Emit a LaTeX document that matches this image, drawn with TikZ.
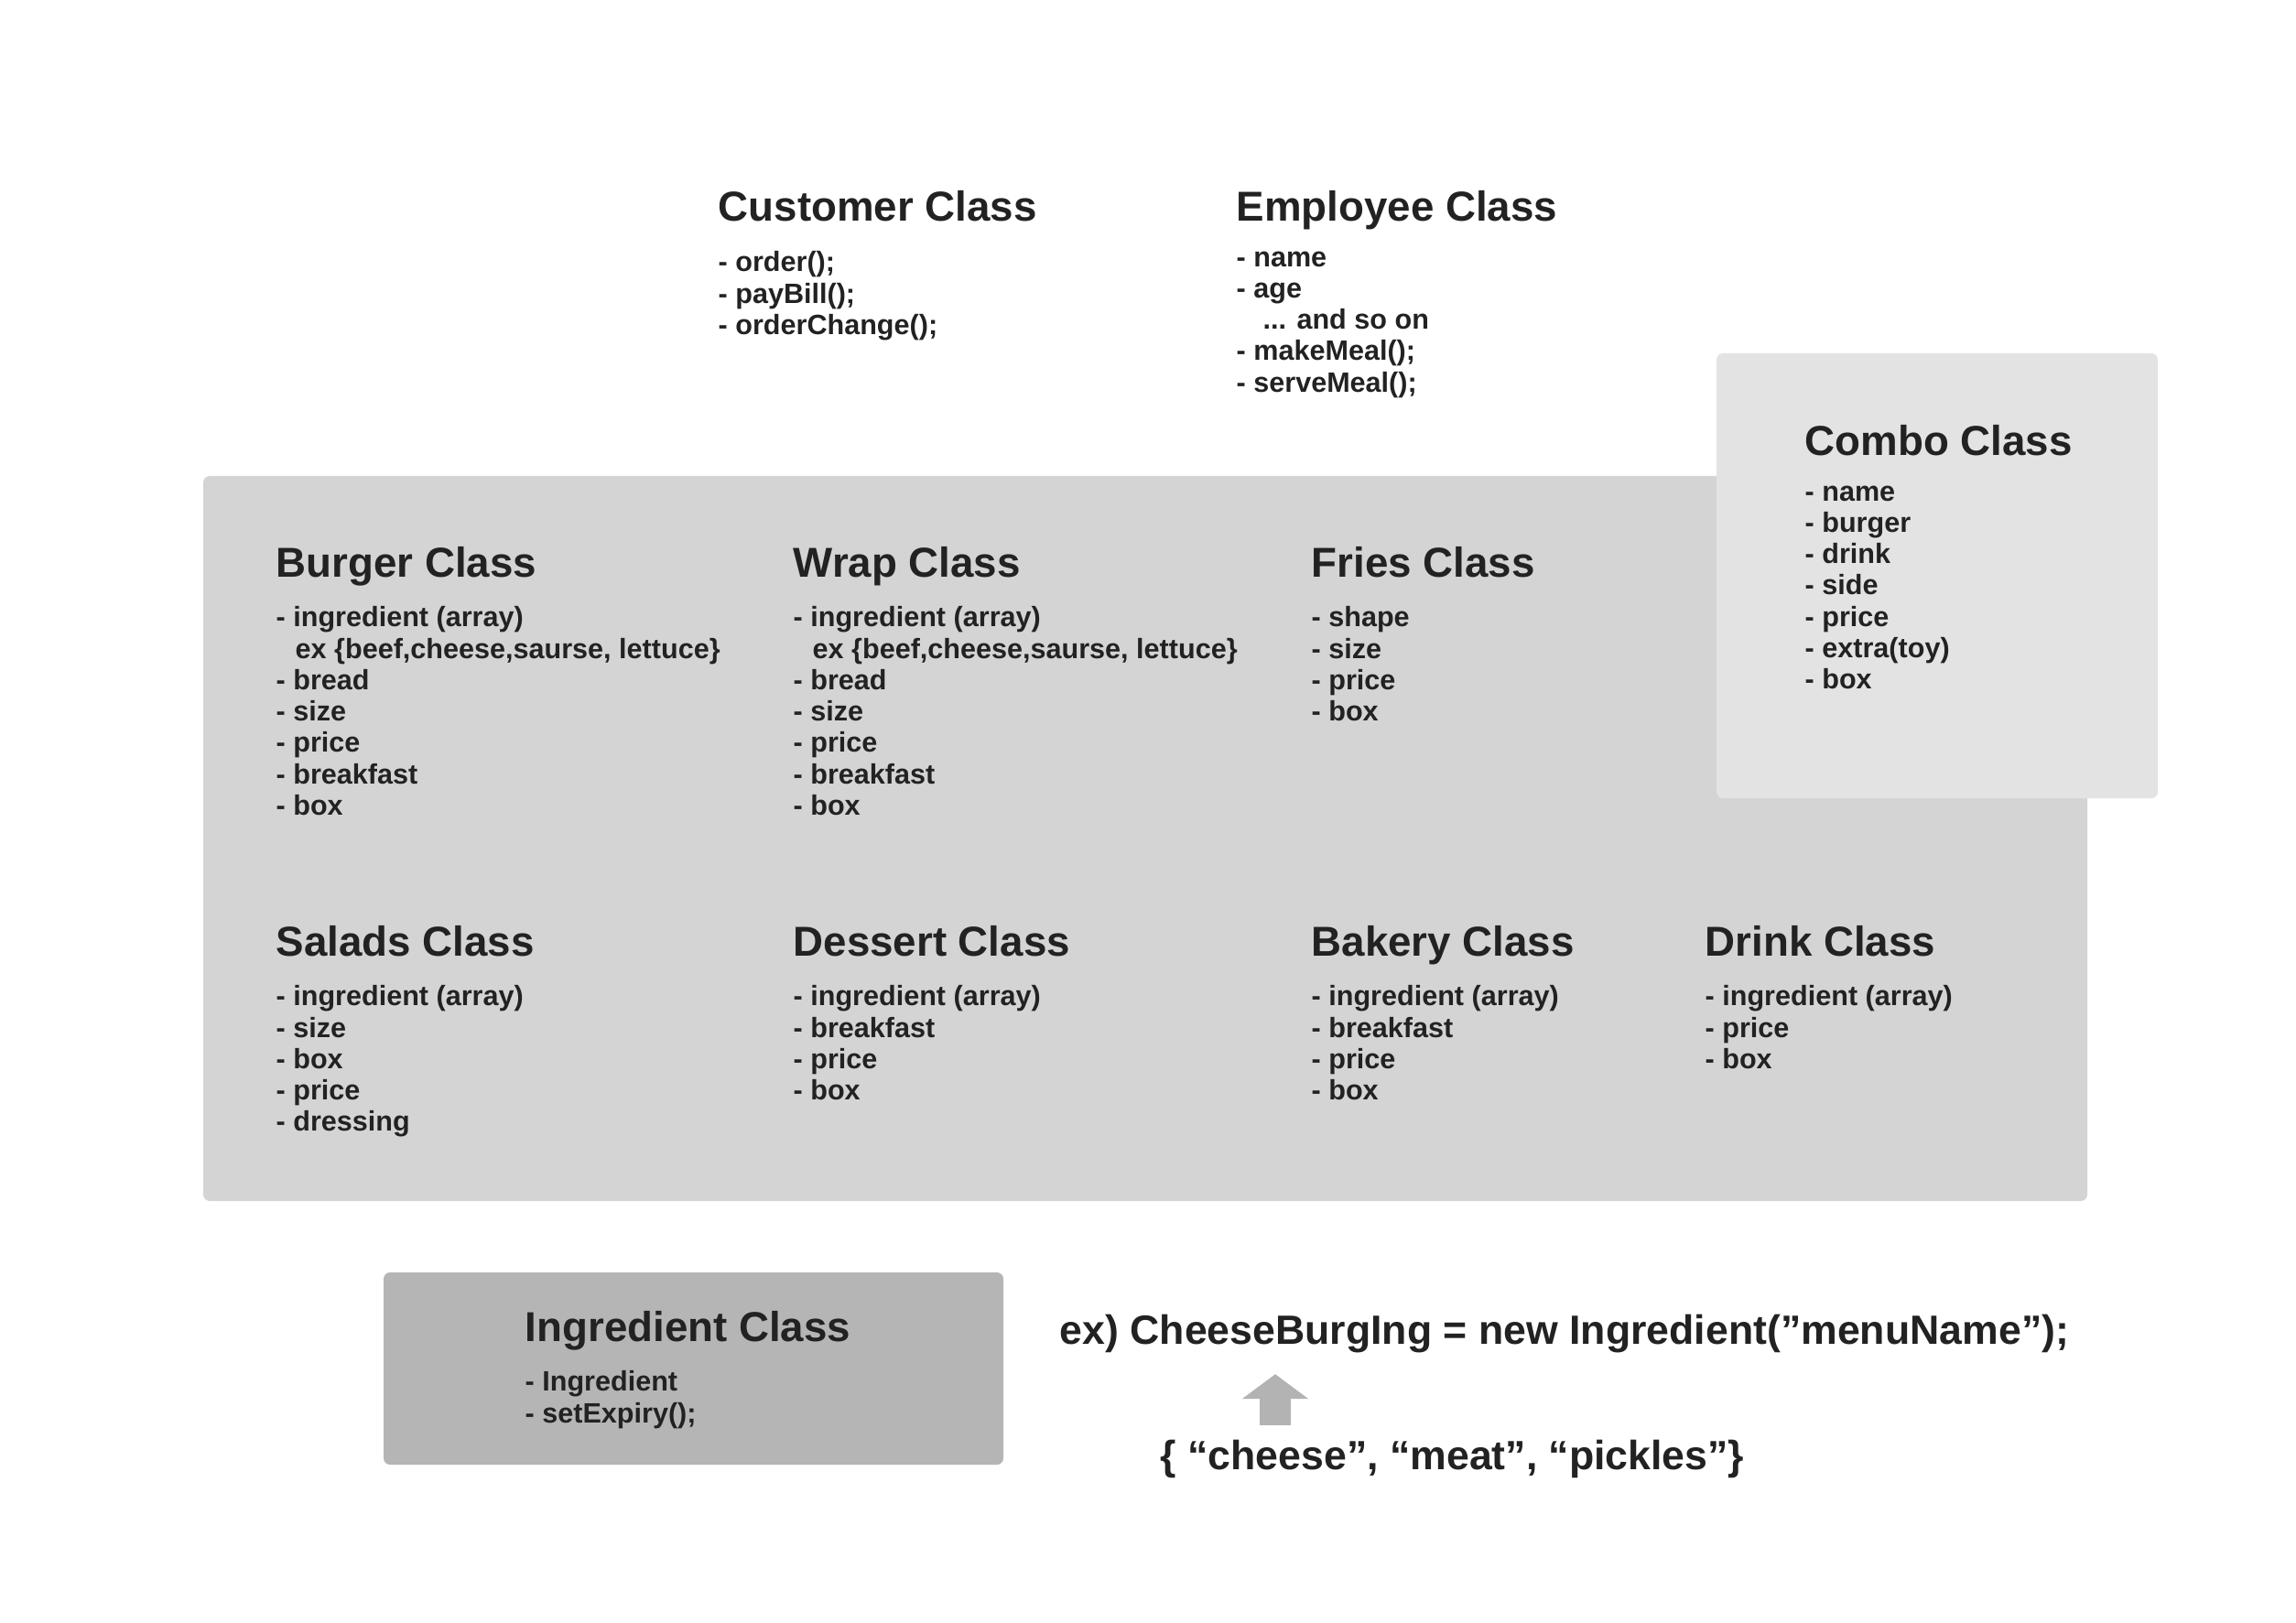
\documentclass[tikz,border=0pt]{standalone}
\usepackage{fontspec}
\setmainfont{Liberation Sans}
\usepackage{xcolor}
\usetikzlibrary{arrows.meta,positioning}

\definecolor{ink}{HTML}{222222}
\definecolor{panelgray}{HTML}{D4D4D4}
\definecolor{combogray}{HTML}{E3E3E3}
\definecolor{ingrgray}{HTML}{B5B5B5}
\definecolor{arrgray}{HTML}{B3B3B3}

\begin{document}
\begin{tikzpicture}[>=Stealth,
    clsname/.style={anchor=base west, inner sep=0pt, text=ink,
      font=\bfseries\fontsize{13}{15.6}\selectfont},
    members/.style={below=0.32cm of #1.base west, anchor=north west,
      inner sep=0pt, text=ink, align=left,
      execute at begin node=\rule{0pt}{7pt},
      font=\bfseries\fontsize{8.7}{9.75}\selectfont},
    panel/.style={rounded corners=2pt},
    bigarr/.style={line width=0.34cm, arrgray,
      -{Triangle[width=0.71cm, length=0.27cm]}}]
  \useasboundingbox (0,0) rectangle (25.08,-17.73);

  % grey panels
  \fill[panel, panelgray] (2.22,-5.20) rectangle (22.80,-13.12);
  \fill[panel, combogray] (18.75,-3.86) rectangle (23.57,-8.72);
  \fill[panel, ingrgray] (4.19,-13.90) rectangle (10.96,-16.00);

  % top row
  \node[clsname] (customer) at (7.84,-2.42) {Customer Class};
  \node[members=customer] (customerm) {- order();\\- payBill();\\- orderChange();};
  \node[clsname] (employee) at (13.50,-2.42) {Employee Class};
  \node[members=employee] (employeem) {- name\\- age\\\hspace*{0.29cm}... and so on\\- makeMeal();\\- serveMeal();};
  \node[clsname] (combo) at (19.71,-4.98) {Combo Class};
  \node[members=combo] (combom) {- name\\- burger\\- drink\\- side\\- price\\- extra(toy)\\- box};

  % menu items
  \node[clsname] (burger) at (3.01,-6.30) {Burger Class};
  \node[members=burger] (burgerm) {- ingredient (array)\\\hspace*{0.21cm}ex \{beef,cheese,saurse, lettuce\}\\- bread\\- size\\- price\\- breakfast\\- box};
  \node[clsname] (wrap) at (8.66,-6.30) {Wrap Class};
  \node[members=wrap] (wrapm) {- ingredient (array)\\\hspace*{0.21cm}ex \{beef,cheese,saurse, lettuce\}\\- bread\\- size\\- price\\- breakfast\\- box};
  \node[clsname] (fries) at (14.32,-6.30) {Fries Class};
  \node[members=fries] (friesm) {- shape\\- size\\- price\\- box};

  \node[clsname] (salads) at (3.01,-10.44) {Salads Class};
  \node[members=salads] (saladsm) {- ingredient (array)\\- size\\- box\\- price\\- dressing};
  \node[clsname] (dessert) at (8.66,-10.44) {Dessert Class};
  \node[members=dessert] (dessertm) {- ingredient (array)\\- breakfast\\- price\\- box};
  \node[clsname] (bakery) at (14.32,-10.44) {Bakery Class};
  \node[members=bakery] (bakerym) {- ingredient (array)\\- breakfast\\- price\\- box};
  \node[clsname] (drink) at (18.62,-10.44) {Drink Class};
  \node[members=drink] (drinkm) {- ingredient (array)\\- price\\- box};

  % ingredient
  \node[clsname] (ingredient) at (5.73,-14.65) {Ingredient Class};
  \node[members=ingredient] (ingredientm) {- Ingredient\\- setExpiry();};
  \node[clsname, font=\bfseries\fontsize{12.7}{15}\selectfont] (example) at (11.57,-14.68) {ex) CheeseBurgIng = new Ingredient(”menuName”);};
  \node[clsname, font=\bfseries\fontsize{12.7}{15}\selectfont] (cheeselist) at (12.67,-16.05) {\{ “cheese”, “meat”, “pickles”\}};

  \coordinate (arrx) at (13.93,0);
  \draw[bigarr, shorten <=0.15cm, shorten >=0.23cm]
    (cheeselist.north -| arrx) -- (example.south -| arrx);
\end{tikzpicture}
\end{document}
